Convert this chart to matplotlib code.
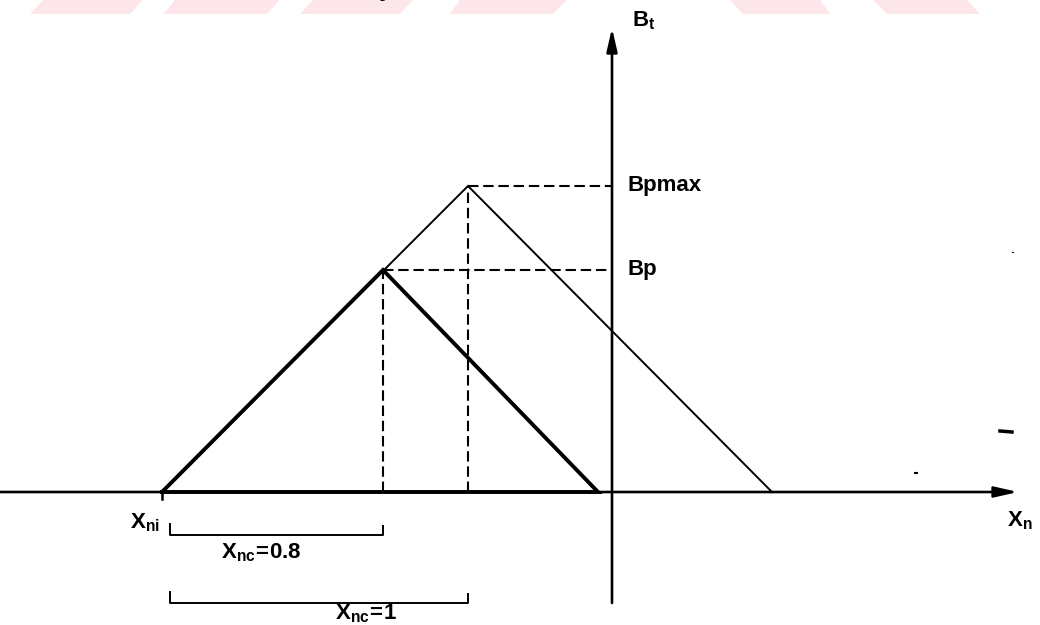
import matplotlib.pyplot as plt
from matplotlib.patches import Polygon
from matplotlib.lines import Line2D

plt.rcParams['font.family'] = 'Liberation Sans'
plt.rcParams['mathtext.fontset'] = 'custom'
plt.rcParams['mathtext.rm'] = 'Liberation Sans'
plt.rcParams['mathtext.bf'] = 'Liberation Sans:bold'

# Diagram values (Xn along the horizontal, Bt up the vertical)
xni = -4.50
peak_x = [-2.29, -1.44]          # Bp, Bpmax
peak_b = [2.22, 3.06]
end_x = [-0.14, 1.60]
peak_labels = ['Bp', 'Bpmax']
span_values = [0.8, 1]
span_y = [-0.43, -1.11]

W, H = 1040, 625
fig = plt.figure(figsize=(W / 100, H / 100), dpi=100)
ax = fig.add_axes([0, 0, 1, 1])
ax.set_xlim(-6.12, 4.28)
ax.set_ylim(-1.33, 4.92)
ax.axis('off')

# faint stamp band along the top edge
band = [(30, 130, 43, 143), (163, 267, 175, 280), (300, 400, 313, 413),
        (450, 553, 460, 567), (743, 830, 730, 820), (887, 980, 873, 967)]
for bl, br, tl, tr in band:
    pts = [(bl / W, 1 - 14 / H), (br / W, 1 - 14 / H), (tr / W, 1), (tl / W, 1)]
    fig.patches.append(Polygon(pts, closed=True, transform=fig.transFigure,
                               facecolor='#fde6ea', edgecolor='none'))
fig.text(385 / W, 1 + 4 / H, 'p', family='Liberation Serif', fontsize=15,
         ha='center', va='baseline', color='k')

# axes with arrow heads
arrow = dict(arrowstyle='-|>,head_length=0.7,head_width=0.16', color='k',
             lw=1.9, shrinkA=0, shrinkB=0, mutation_scale=20)
ax.annotate('', xy=(4.06, 0), xytext=(-6.12, 0), arrowprops=arrow)
ax.annotate('', xy=(0, 4.64), xytext=(0, -1.11), arrowprops=arrow)

# Bp (heavy) and Bpmax (light) triangles
ax.plot([xni, peak_x[0], end_x[0], xni], [0, peak_b[0], 0, 0],
        color='k', lw=2.8, solid_joinstyle='miter')
ax.plot([xni, peak_x[1], end_x[1]], [0, peak_b[1], 0],
        color='k', lw=1.4, solid_joinstyle='miter')

# dashed projections onto the axes
for px, pb in zip(peak_x, peak_b):
    ax.plot([px, 0], [pb, pb], color='k', lw=1.5, dashes=(5, 2.3))
    ax.plot([px, px], [0, pb], color='k', lw=1.5, dashes=(5, 2.3))

for pb, lab in zip(peak_b, peak_labels):
    ax.text(0.16, pb, lab, fontsize=16, fontweight='bold', ha='left', va='center')

# start point tick
ax.plot([xni, xni], [0, -0.07], color='k', lw=1.8)

# span brackets below the axis
for px, sy, v in zip(peak_x, span_y, span_values):
    ax.plot([-4.42, -4.42, px, px], [sy + 0.11, sy, sy, sy + 0.09],
            color='k', lw=1.4)
ax.text(-3.51, -0.61, rf'$\mathbf{{X_{{nc}}\!=\!{span_values[0]:g}}}$',
        fontsize=16, ha='center', va='center')
ax.text(-2.46, -1.215, rf'$\mathbf{{X_{{nc}}\!=\!{span_values[1]:g}}}$',
        fontsize=16, ha='center', va='center')

ax.text(-4.82, -0.36, r'$\mathbf{X_{ni}}$', fontsize=16, ha='left', va='baseline')
ax.text(3.95, -0.29, r'$\mathbf{X_n}$', fontsize=16, ha='left', va='center')
ax.text(0.20, 4.66, r'$\mathbf{B_t}$', fontsize=16, ha='left', va='baseline')

# scanner specks
for xs, ys, w in [((1000, 1012), (431, 432), 2.5), ((915, 917), (473, 473), 1.5),
                  ((1012, 1013), (252, 252), 0.8)]:
    fig.add_artist(Line2D([x / W for x in xs], [1 - y / H for y in ys],
                          transform=fig.transFigure, color='k', lw=w))

fig.savefig('out.png', dpi=100, facecolor='white')
